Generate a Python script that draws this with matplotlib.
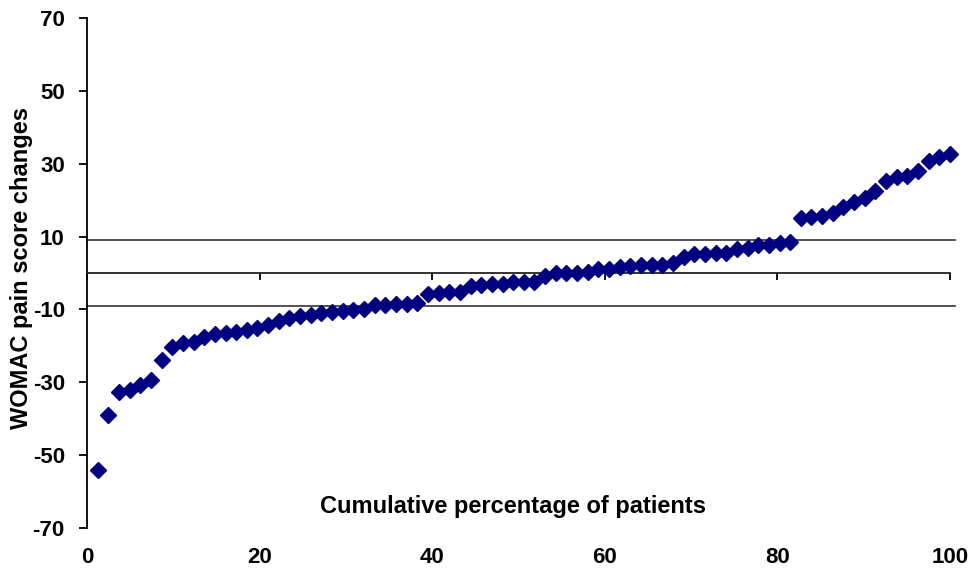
import matplotlib
matplotlib.use('Agg')
import matplotlib.pyplot as plt
import numpy as np

plt.rcParams['font.family'] = ['Liberation Sans', 'DejaVu Sans']

# change in WOMAC pain score, sorted, one value per patient
score_change = [-54.1, -39.0, -32.8, -32.1, -30.7, -29.4, -24.0, -20.3, -19.3, -18.9,
                -17.5, -16.8, -16.4, -16.2, -15.6, -15.0, -14.4, -13.2, -12.3, -11.7,
                -11.4, -10.9, -10.6, -10.4, -10.2, -10.0, -8.8, -8.8, -8.6, -8.5,
                -8.1, -5.8, -5.6, -5.3, -5.1, -3.5, -3.3, -3.1, -3.0, -2.6,
                -2.6, -2.4, -0.8, -0.1, -0.1, 0.0, 0.4, 1.0, 1.0, 1.7,
                1.9, 2.2, 2.2, 2.3, 2.8, 4.5, 5.1, 5.1, 5.6, 5.6,
                6.6, 6.8, 7.7, 7.7, 8.3, 8.4, 15.0, 15.3, 15.6, 16.4,
                18.2, 19.6, 20.5, 22.5, 25.3, 26.3, 26.6, 28.1, 30.8, 31.9, 32.7]
n = len(score_change)
cum_pct = [100.0 * (i + 1) / n for i in range(n)]

threshold = 9
x_ticks = [0, 20, 40, 60, 80, 100]
y_ticks = [-70, -50, -30, -10, 10, 30, 50, 70]

fig = plt.figure(figsize=(9.71, 5.75), dpi=100)
ax = fig.add_axes([87/971, 1 - 528/575, (950 - 87)/971, (528 - 18)/575])

ax.axhline(threshold, xmax=1.006, color='#333333', lw=1.2, zorder=1, clip_on=False)
ax.axhline(-threshold, xmax=1.006, color='#333333', lw=1.2, zorder=1, clip_on=False)

ax.plot(cum_pct, score_change, linestyle='none', marker='D', markersize=8.5,
        color='#000080', zorder=3, clip_on=False)

ax.set_xlim(0, 100)
ax.set_ylim(-70, 70)

ax.spines['top'].set_visible(False)
ax.spines['right'].set_visible(False)
ax.spines['bottom'].set_position(('data', 0))
ax.spines['left'].set_linewidth(1.3)
ax.spines['bottom'].set_linewidth(1.3)
ax.spines['bottom'].set_color('#222222')

ax.set_yticks(y_ticks)
ax.set_yticklabels([str(v) for v in y_ticks], fontsize=16, fontweight='bold')
ax.tick_params(axis='y', length=6, width=1.3, pad=10)

ax.set_xticks(x_ticks)
ax.tick_params(axis='x', length=5, width=1.3, labelbottom=False)

sec = ax.secondary_xaxis(0.0)
sec.spines['bottom'].set_visible(False)
sec.set_xticks(x_ticks)
sec.set_xticklabels([str(v) for v in x_ticks], fontsize=16, fontweight='bold')
sec.tick_params(length=0, pad=14)

ax.text(49.4, -64, 'Cumulative percentage of patients', ha='center', va='center',
        fontsize=17, fontweight='bold')
fig.text(22/971, 1 - 268/575, 'WOMAC pain score changes', rotation=90,
         ha='center', va='center', fontsize=17, fontweight='bold')

fig.savefig('out.png', dpi=100)
